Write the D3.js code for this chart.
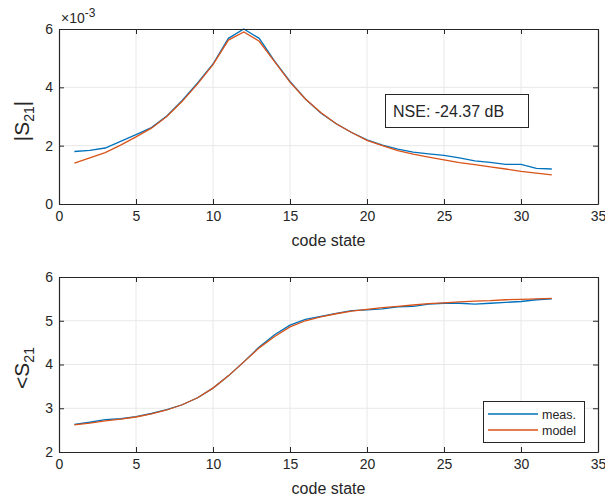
<!DOCTYPE html>
<html>
<head>
<meta charset="utf-8">
<script src="https://cdn.jsdelivr.net/npm/d3@7"></script>
<style>
  body { margin: 0; background: #fff; }
  svg { display: block; font-family: "Liberation Sans", Arial, sans-serif; }
  .axis path, .axis line { stroke: #262626; }
  .axis text { fill: #262626; font-size: 14px; }
  .grid line { stroke: #e8e8e8; }
</style>
</head>
<body>
<svg id="chart" width="605" height="502"></svg>
<script>
// code states 1..32
const codeStates = d3.range(1, 33);

// |S21| in units of 1e-3
const magMeas = [1.80, 1.84, 1.92, 2.15, 2.38, 2.62, 3.02, 3.55, 4.15, 4.80, 5.68, 6.00, 5.68, 4.90, 4.20, 3.60,
                 3.12, 2.75, 2.45, 2.20, 2.02, 1.88, 1.78, 1.72, 1.67, 1.58, 1.48, 1.43, 1.36, 1.36, 1.22, 1.20];
const magModel = [1.40, 1.58, 1.76, 2.02, 2.30, 2.60, 3.00, 3.52, 4.12, 4.78, 5.62, 5.90, 5.58, 4.88, 4.18, 3.60,
                  3.14, 2.75, 2.45, 2.18, 2.00, 1.83, 1.71, 1.61, 1.51, 1.42, 1.35, 1.27, 1.20, 1.12, 1.06, 1.00];

// phase of S21
const phaseMeas = [2.63, 2.68, 2.74, 2.76, 2.81, 2.88, 2.97, 3.08, 3.24, 3.46, 3.74, 4.06, 4.40, 4.68, 4.90, 5.03,
                   5.10, 5.17, 5.23, 5.25, 5.27, 5.32, 5.33, 5.38, 5.40, 5.40, 5.38, 5.40, 5.42, 5.44, 5.48, 5.50];
const phaseModel = [2.62, 2.66, 2.71, 2.75, 2.80, 2.87, 2.96, 3.08, 3.24, 3.46, 3.74, 4.06, 4.38, 4.64, 4.86, 5.00,
                    5.09, 5.16, 5.22, 5.26, 5.30, 5.33, 5.36, 5.39, 5.41, 5.43, 5.45, 5.46, 5.48, 5.49, 5.50, 5.51];

const xTicks = [0, 5, 10, 15, 20, 25, 30, 35];
const magTicks = [0, 2, 4, 6];
const phaseTicks = [2, 3, 4, 5, 6];
const seriesNames = ['meas.', 'model'];
const colors = ['#0072BD', '#D95319'];

const svg = d3.select('#chart');
const plotLeft = 59, plotRight = 598;
const fmt = d3.format('d');

function panel(y0, y1, yDomain, yTicks, series) {
  const x = d3.scaleLinear().domain([0, 35]).range([plotLeft, plotRight]);
  const y = d3.scaleLinear().domain(yDomain).range([y1, y0]);
  const g = svg.append('g');

  // grid
  const grid = g.append('g').attr('class', 'grid');
  grid.selectAll('.gx').data(xTicks.slice(1, -1)).join('line')
    .attr('x1', d => x(d)).attr('x2', d => x(d)).attr('y1', y0).attr('y2', y1);
  grid.selectAll('.gy').data(yTicks.slice(1, -1)).join('line')
    .attr('x1', plotLeft).attr('x2', plotRight).attr('y1', d => y(d)).attr('y2', d => y(d));

  // lines
  const line = d3.line().x((d, i) => x(codeStates[i])).y(d => y(d));
  series.forEach((s, k) => {
    g.append('path').datum(s)
      .attr('fill', 'none').attr('stroke', colors[k]).attr('stroke-width', 1.3)
      .attr('d', line);
  });

  // axes, ticks inward, box on
  g.append('g').attr('class', 'axis').attr('transform', `translate(0,${y1})`)
    .call(d3.axisBottom(x).tickValues(xTicks).tickFormat(fmt).tickSizeInner(-5).tickSizeOuter(0).tickPadding(7));
  g.append('g').attr('class', 'axis').attr('transform', `translate(0,${y0})`)
    .call(d3.axisTop(x).tickValues(xTicks).tickSizeInner(-5).tickSizeOuter(0).tickFormat(''));
  g.append('g').attr('class', 'axis').attr('transform', `translate(${plotLeft},0)`)
    .call(d3.axisLeft(y).tickValues(yTicks).tickFormat(fmt).tickSizeInner(-5).tickSizeOuter(0).tickPadding(6));
  g.append('g').attr('class', 'axis').attr('transform', `translate(${plotRight},0)`)
    .call(d3.axisRight(y).tickValues(yTicks).tickSizeInner(-5).tickSizeOuter(0).tickFormat(''));
  g.selectAll('.axis path').attr('stroke-width', 1.2);

  g.append('text')
    .attr('x', (plotLeft + plotRight) / 2).attr('y', y1 + 42)
    .attr('text-anchor', 'middle').attr('fill', '#262626').style('font-size', '16px')
    .text('code state');
  return { g, x, y };
}

const magPanel = panel(29, 204, [0, 6], magTicks, [magMeas, magModel]);
const phasePanel = panel(277, 452, [2, 6], phaseTicks, [phaseMeas, phaseModel]);

// exponent label
const ex = svg.append('text').attr('x', 61).attr('y', 23).attr('fill', '#262626').style('font-size', '14px');
ex.append('tspan').text('\u00d710');
ex.append('tspan').attr('dy', -6).style('font-size', '12px').text('-3');

// y labels
function ylabel(cy, prefix, suffix) {
  const t = svg.append('text')
    .attr('transform', `translate(29,${cy}) rotate(-90)`)
    .attr('text-anchor', 'middle').attr('fill', '#262626').style('font-size', '21px');
  t.append('tspan').text(prefix + 'S');
  t.append('tspan').attr('dy', 5).style('font-size', '14px').text('21');
  if (suffix) t.append('tspan').attr('dy', -5).text(suffix);
}
ylabel(121, '|', '|');
ylabel(368, '<', '');

// NSE annotation
svg.append('rect').attr('x', 385.5).attr('y', 94.5).attr('width', 143).attr('height', 33)
  .attr('fill', '#fff').attr('stroke', '#262626').attr('stroke-width', 1);
svg.append('text').attr('x', 393).attr('y', 117).attr('fill', '#262626').style('font-size', '16px')
  .text('NSE: -24.37 dB');

// legend
const lg = svg.append('g');
lg.append('rect').attr('x', 483.5).attr('y', 401.5).attr('width', 101).attr('height', 41)
  .attr('fill', '#fff').attr('stroke', '#262626').attr('stroke-width', 1);
seriesNames.forEach((name, i) => {
  const yy = 414 + i * 16;
  lg.append('line').attr('x1', 488).attr('x2', 538).attr('y1', yy).attr('y2', yy)
    .attr('stroke', colors[i]).attr('stroke-width', 1.3);
  lg.append('text').attr('x', 542).attr('y', yy + 4.5).attr('fill', '#262626').style('font-size', '12.5px')
    .text(name);
});
</script>
</body>
</html>
